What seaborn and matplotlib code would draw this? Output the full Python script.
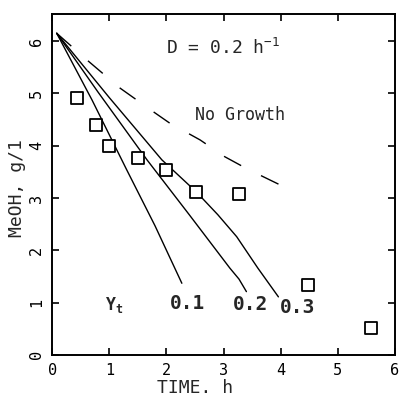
import matplotlib
matplotlib.use("Agg")
import matplotlib.pyplot as plt
import seaborn as sns
import pandas as pd

# Measured methanol concentration (g/l) vs time (h)
time_obs = [0.43, 0.76, 1.00, 1.51, 2.00, 2.52, 3.27, 4.48, 5.58]
meoh_obs = [4.91, 4.40, 4.00, 3.76, 3.54, 3.12, 3.08, 1.33, 0.52]

# Model curves for different yields Yt
t_y01 = [0.08, 0.70, 1.30, 1.80, 2.27]
m_y01 = [6.15, 4.87, 3.55, 2.47, 1.37]

t_y02 = [0.08, 0.80, 1.66, 2.40, 3.11, 3.27, 3.40]
m_y02 = [6.15, 5.03, 3.73, 2.68, 1.66, 1.45, 1.21]

t_y03 = [0.08, 1.00, 1.92, 2.52, 2.90, 3.23, 3.60, 3.96]
m_y03 = [6.15, 4.92, 3.73, 3.12, 2.68, 2.26, 1.66, 1.11]

# No-growth reference curve
t_ng = [0.08, 0.63, 1.19, 1.77, 2.06, 2.59, 3.02, 3.34, 3.67, 3.99]
m_ng = [6.15, 5.62, 5.10, 4.65, 4.43, 4.11, 3.79, 3.60, 3.42, 3.25]

yield_labels = ["0.1", "0.2", "0.3"]
x_ticks = [0, 1, 2, 3, 4, 5, 6]
y_ticks = [0, 1, 2, 3, 4, 5, 6]

sns.set_theme(style="ticks")
plt.rcParams["font.family"] = ["DejaVu Sans Mono", "DejaVu Sans"]
plt.rcParams["mathtext.fontset"] = "custom"
plt.rcParams["mathtext.rm"] = "DejaVu Sans Mono"
plt.rcParams["mathtext.bf"] = "DejaVu Sans Mono:bold"
plt.rcParams["lines.scale_dashes"] = False

fig = plt.figure(figsize=(4.01, 3.97), dpi=100)
ax = fig.add_axes([0.130, 0.106, 0.855, 0.859])

curves = pd.concat([
    pd.DataFrame({"t": t_y01, "m": m_y01, "Yt": yield_labels[0]}),
    pd.DataFrame({"t": t_y02, "m": m_y02, "Yt": yield_labels[1]}),
    pd.DataFrame({"t": t_y03, "m": m_y03, "Yt": yield_labels[2]}),
])
sns.lineplot(data=curves, x="t", y="m", units="Yt", estimator=None, sort=False,
             color="black", linewidth=1.0, ax=ax, legend=False)

ng = pd.DataFrame({"t": t_ng, "m": m_ng})
sns.lineplot(data=ng, x="t", y="m", sort=False, color="black", linewidth=1.0,
             ax=ax, legend=False, dashes=False)
ax.lines[-1].set_dashes((14, 16))

obs = pd.DataFrame({"t": time_obs, "m": meoh_obs})
sns.scatterplot(data=obs, x="t", y="m", marker="s", s=70, facecolor="white",
                edgecolor="black", linewidth=1.3, ax=ax, zorder=5)

ax.set_xlim(0, 6)
ax.set_ylim(0, 6.52)
ax.set_xticks(x_ticks)
ax.set_yticks(y_ticks)
ax.tick_params(direction="in", length=5, width=1.2, top=True, right=True,
               labeltop=False, labelright=False, labelsize=11, colors="black",
               pad=6)
for lab in ax.get_yticklabels():
    lab.set_rotation(90)
    lab.set_va("center")
for s in ax.spines.values():
    s.set_linewidth(1.4)
    s.set_color("black")

ax.set_xlabel("TIME. h", fontsize=13, va="center")
ax.set_ylabel("MeOH, g/1", fontsize=13, va="center")
ax.xaxis.set_label_coords(0.418, -0.097)
ax.yaxis.set_label_coords(-0.102, 0.49)

ax.text(2.0, 5.87, r"D = 0.2 h$^{-1}$", fontsize=13, va="center", ha="left")
ax.text(2.5, 4.59, "No Growth", fontsize=12, va="center", ha="left")
ax.text(0.93, 0.96, r"$\mathbf{Y_t}$", fontsize=12, va="center", ha="left")
label_x = [2.06, 3.17, 3.99]
label_y = [0.99, 0.96, 0.90]
for lx, ly, txt in zip(label_x, label_y, yield_labels):
    ax.text(lx, ly, txt, fontsize=14, fontweight="bold", va="center", ha="left")

fig.savefig("out.png", dpi=100)
